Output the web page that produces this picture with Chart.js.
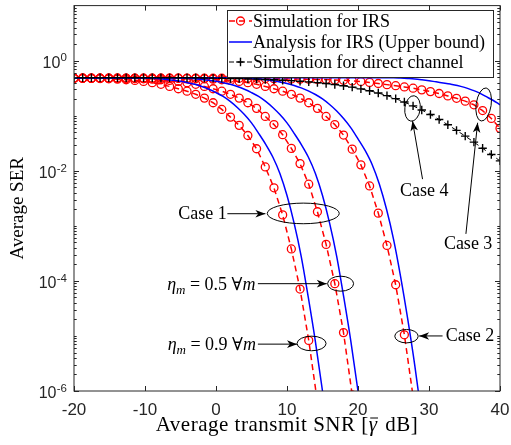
<!DOCTYPE html>
<html><head><meta charset="utf-8">
<script src="https://cdn.jsdelivr.net/npm/chart.js@4.4.0/dist/chart.umd.min.js"></script>
<style>html,body{margin:0;padding:0;background:#fff;}canvas{display:block;}</style>
</head><body>
<canvas id="c" width="511" height="445"></canvas>
<script>
// ---------- DATA ----------
const snrSim = [-20,-18.776,-17.551,-16.327,-15.102,-13.878,-12.653,-11.429,-10.204,-8.980,-7.755,-6.531,-5.306,-4.082,-2.857,-1.633,-0.408,0.816,2.041,3.265,4.490,5.714,6.939,8.163,9.388,10.612,11.837,13.061,14.286,15.510,16.735,17.959,19.184,20.408,21.633,22.857,24.082,25.306,26.531,27.755,28.980,30.204,31.429,32.653,33.878,35.102,36.327,37.551,38.776,40];
const snrAna = [-20,-19,-18,-17,-16,-15,-14,-13,-12,-11,-10,-9,-8,-7,-6,-5,-4,-3,-2,-1,0,1,2,3,4,5,6,7,8,9,10,11,12,13,14,15,16,17,18,19,20,21,22,23,24,25,26,27,28,29,30,31,32,33,34,35,36,37,38,39,40];

// Simulation for IRS (red)
const simCase1Eta09 = [0.479,0.479,0.476,0.473,0.468,0.460,0.450,0.437,0.420,0.398,0.372,0.340,0.309,0.279,0.245,0.209,0.172,0.130,0.0944,0.0668,0.0437,0.0251,0.01175,0.0049,0.00158,3.8e-4,7.1e-5,8.3e-6,6.3e-7];
const simCase1Eta05 = [0.479,0.479,0.479,0.479,0.479,0.479,0.476,0.473,0.468,0.460,0.450,0.437,0.420,0.398,0.372,0.340,0.309,0.279,0.245,0.209,0.172,0.136,0.097,0.069,0.0452,0.0255,0.0135,0.0057,0.0018,4.6e-4,8.9e-5,1.15e-5,8.5e-7];
const simCase2 = [0.479,0.479,0.479,0.479,0.479,0.479,0.479,0.479,0.479,0.479,0.479,0.479,0.479,0.476,0.473,0.468,0.460,0.450,0.437,0.420,0.398,0.372,0.340,0.309,0.279,0.245,0.209,0.172,0.136,0.097,0.069,0.0445,0.0247,0.0128,0.0053,0.0017,4.4e-4,8.5e-5,1.05e-5,8e-7];
const simCase3 = [0.479,0.479,0.479,0.479,0.479,0.479,0.479,0.479,0.479,0.479,0.479,0.479,0.479,0.479,0.479,0.479,0.479,0.479,0.479,0.479,0.479,0.479,0.473,0.471,0.468,0.466,0.462,0.460,0.457,0.453,0.447,0.440,0.429,0.417,0.403,0.385,0.367,0.351,0.333,0.316,0.295,0.274,0.253,0.229,0.207,0.184,0.158,0.124,0.0891,0.0589];
// Analysis for IRS, upper bound (blue)
const anaCase1Eta09 = [0.49,0.49,0.49,0.49,0.49,0.49,0.49,0.49,0.49,0.488,0.484,0.479,0.468,0.457,0.442,0.422,0.398,0.372,0.339,0.302,0.263,0.224,0.182,0.141,0.105,0.0741,0.0479,0.0302,0.0178,0.0089,0.00355,0.00112,2.8e-4,5.0e-5,7.9e-6,1.0e-6,1e-7];
const anaCase1Eta05 = [0.49,0.49,0.49,0.49,0.49,0.49,0.49,0.49,0.49,0.49,0.49,0.49,0.49,0.49,0.488,0.484,0.479,0.468,0.457,0.442,0.422,0.398,0.372,0.339,0.302,0.263,0.224,0.182,0.141,0.105,0.0741,0.0479,0.0302,0.0178,0.0089,0.00355,0.00112,2.8e-4,5.0e-5,7.9e-6,1.0e-6,1e-7];
const anaCase2 = [0.49,0.49,0.49,0.49,0.49,0.49,0.49,0.49,0.49,0.49,0.49,0.49,0.49,0.49,0.49,0.49,0.49,0.49,0.49,0.49,0.49,0.49,0.49,0.486,0.482,0.473,0.462,0.450,0.432,0.410,0.385,0.355,0.320,0.282,0.243,0.202,0.160,0.122,0.0881,0.0603,0.0380,0.0234,0.0129,0.00575,0.00204,5.75e-4,1.2e-4,2.04e-5,2.9e-6,3.2e-7];
const anaCase3 = [0.49,0.49,0.49,0.49,0.49,0.49,0.49,0.49,0.49,0.49,0.49,0.49,0.49,0.49,0.49,0.49,0.49,0.49,0.49,0.49,0.49,0.49,0.49,0.49,0.49,0.49,0.49,0.49,0.49,0.49,0.49,0.49,0.49,0.49,0.49,0.49,0.49,0.49,0.49,0.49,0.49,0.49,0.49,0.49,0.49,0.49,0.484,0.476,0.466,0.450,0.432,0.412,0.394,0.376,0.355,0.327,0.295,0.263,0.224,0.191,0.158];
// Simulation for direct channel (black)
const simDirect = [0.49,0.49,0.49,0.49,0.49,0.49,0.49,0.49,0.49,0.49,0.49,0.49,0.49,0.49,0.49,0.4835,0.481,0.478,0.475,0.471,0.467,0.462,0.456,0.449,0.442,0.433,0.423,0.412,0.399,0.385,0.368,0.350,0.330,0.307,0.284,0.258,0.232,0.204,0.177,0.151,0.127,0.105,0.0853,0.0685,0.0542,0.0426,0.0331,0.0256,0.0197,0.0151];

const xTicks = [-20,-10,0,10,20,30,40];
const yTickExps = [-6,-4,-2,0];
const legendLabels = ['Simulation for IRS','Analysis for IRS (Upper bound)','Simulation for direct channel'];
const xTitle = ['Average transmit SNR [', 'γ', ' dB]'];
const yTitle = 'Average SER';

// annotations: anchor positions in data units (SNR dB, SER)
const notes = {
  case1: {text:'Case 1', tx:-1.9, ty:1.66e-3, ax0:1.6, ay0:1.66e-3, ax1:6.96, ay1:1.66e-3, ex:12.29, ey:1.68e-3, rx:36, ry:10.3, rot:0},
  eta05: {tx:-0.66, ty:8.9e-5, ax0:5.9, ay0:8.9e-5, ax1:15.6, ay1:8.9e-5, ex:17.55, ey:8.9e-5, rx:13, ry:7.5, rot:0, val:'0.5'},
  eta09: {tx:-0.59, ty:7.1e-6, ax0:5.9, ay0:7.1e-6, ax1:11.41, ay1:7.1e-6, ex:13.46, ey:7.3e-6, rx:14.5, ry:7.3, rot:0, val:'0.9'},
  case2: {text:'Case 2', tx:35.77, ty:1.03e-5, ax0:31.91, ay0:1.0e-5, ax1:28.61, ay1:1.0e-5, ex:26.83, ey:9.9e-6, rx:11.7, ry:6.7, rot:0},
  case4: {text:'Case 4', tx:29.32, ty:4.46e-3, ax0:29.09, ay0:7.05e-3, ax1:27.68, ay1:0.0798, ex:27.68, ey:0.1355, rx:7.7, ry:12.8, rot:0.13},
  case3: {text:'Case 3', tx:35.51, ty:4.83e-4, ax0:35.2, ay0:7.14e-4, ax1:36.85, ay1:0.0745, ex:37.7, ey:0.16, rx:7.5, ry:16.7, rot:0.15}
};

// ---------- STYLES ----------
const SERIF = "'Liberation Serif','DejaVu Serif',serif";
const SANS = "'Liberation Sans',Arial,sans-serif";
const AX = '#262626';
const RED = '#ff0000', BLUE = '#0000ff', BLACK = '#000000';
const redStyle = {borderColor:RED, borderWidth:1.5, borderDash:[6,4], pointRadius:4, pointHoverRadius:4,
  pointBorderColor:RED, pointBackgroundColor:'rgba(0,0,0,0)', pointBorderWidth:1.3, tension:0, order:3};
const blueStyle = {borderColor:BLUE, borderWidth:1.5, pointRadius:0, pointHoverRadius:0, cubicInterpolationMode:'monotone', order:2};
const blackStyle = {borderColor:BLACK, borderWidth:1, borderDash:[5,4], pointStyle:'cross', pointRadius:4.2, pointHoverRadius:4.2,
  pointBorderColor:BLACK, pointBorderWidth:1.4, tension:0, order:1};

function pts(xs, ys){ return ys.map((v,i)=>({x:xs[i], y:v})); }

function arrowHead(c, x0, y0, x1, y1, L, W){
  const a = Math.atan2(y1-y0, x1-x0);
  const cos = Math.cos(a), sin = Math.sin(a);
  const bx = x1 - L*cos, by = y1 - L*sin;
  const nx = x1 - 0.72*L*cos, ny = y1 - 0.72*L*sin;
  c.beginPath();
  c.moveTo(x1, y1);
  c.lineTo(bx - W*sin, by + W*cos);
  c.lineTo(nx, ny);
  c.lineTo(bx + W*sin, by - W*cos);
  c.closePath();
  c.fill();
}

const decor = {
  id:'decor',
  afterDraw(chart){
    const c = chart.ctx, a = chart.chartArea, xs = chart.scales.x, ys = chart.scales.y;
    const px = v => xs.getPixelForValue(v), py = v => ys.getPixelForValue(v);
    c.save();
    // box
    c.strokeStyle = AX; c.lineWidth = 1;
    c.strokeRect(a.left, a.top, a.right - a.left, a.bottom - a.top);
    // x ticks
    c.beginPath();
    xTicks.forEach(v => { const X = Math.round(px(v)) + 0.5;
      c.moveTo(X, a.bottom); c.lineTo(X, a.bottom - 5);
      c.moveTo(X, a.top); c.lineTo(X, a.top + 5); });
    // y ticks
    for (let k = -6; k <= 0; k++) {
      for (let j = 1; j <= 9; j++) {
        const v = j * Math.pow(10, k);
        const Y = Math.round(py(v)) + 0.5;
        const major = (j === 1 && k % 2 === 0);
        const len = major ? 5 : 2.7;
        c.moveTo(a.left, Y); c.lineTo(a.left + len, Y);
        c.moveTo(a.right, Y); c.lineTo(a.right - len, Y);
      }
    }
    c.stroke();
    // x tick labels
    c.fillStyle = AX; c.font = `17px ${SANS}`; c.textAlign = 'center'; c.textBaseline = 'alphabetic';
    xTicks.forEach(v => c.fillText(String(v), px(v), 415));
    // y tick labels 10^k
    yTickExps.forEach(e => {
      const Y = py(Math.pow(10, e));
      const ex = e < 0 ? '-' + Math.abs(e) : String(e);
      c.textAlign = 'right';
      c.font = `11.5px ${SANS}`;
      const ew = c.measureText(ex).width;
      c.fillText(ex, 67, Y + 0.8);
      c.font = `16px ${SANS}`;
      c.fillText('10', 67 - ew - 0.3, Y + 7);
    });
    // axis titles
    c.fillStyle = '#000';
    c.textAlign = 'left';
    c.letterSpacing = '0.5px';
    c.font = `21px ${SERIF}`;
    const w0 = c.measureText(xTitle[0]).width;
    const w2 = c.measureText(xTitle[2]).width;
    c.font = `italic 21px ${SERIF}`;
    const w1 = c.measureText(xTitle[1]).width;
    const tot = w0 + w1 + w2 + 2;
    let tx = (a.left + a.right) / 2 - tot / 2;
    const tb = 431;
    c.font = `21px ${SERIF}`; c.fillText(xTitle[0], tx, tb); tx += w0;
    c.font = `italic 21px ${SERIF}`; c.fillText(xTitle[1], tx, tb);
    c.beginPath(); c.lineWidth = 1; c.strokeStyle = '#000';
    c.moveTo(tx + 1.5, tb - 13); c.lineTo(tx + w1 + 0.5, tb - 13); c.stroke();
    tx += w1 + 2;
    c.font = `21px ${SERIF}`; c.fillText(xTitle[2], tx, tb);
    c.letterSpacing = '0px';
    c.save();
    c.translate(23, (a.top + a.bottom) / 2 + 10);
    c.rotate(-Math.PI / 2);
    c.textAlign = 'center'; c.font = `19px ${SERIF}`;
    c.fillText(yTitle, 0, 0);
    c.restore();

    // legend
    const L = {x:227, y:10, w:266, h:67};
    c.fillStyle = '#fff'; c.fillRect(L.x, L.y, L.w, L.h);
    c.strokeStyle = AX; c.lineWidth = 1; c.strokeRect(L.x + 0.5, L.y + 0.5, L.w, L.h);
    const rows = [21, 42, 62];
    // row 1 red
    c.lineWidth = 1.5; c.strokeStyle = RED; c.setLineDash([6,4]);
    c.beginPath(); c.moveTo(229, rows[0]); c.lineTo(252, rows[0]); c.stroke();
    c.setLineDash([]); c.lineWidth = 1.3;
    c.beginPath(); c.arc(240.5, rows[0], 4, 0, Math.PI * 2); c.stroke();
    // row 2 blue
    c.lineWidth = 1.5; c.strokeStyle = BLUE;
    c.beginPath(); c.moveTo(229, rows[1]); c.lineTo(252, rows[1]); c.stroke();
    // row 3 black
    c.lineWidth = 1; c.strokeStyle = BLACK; c.setLineDash([5,4]);
    c.beginPath(); c.moveTo(229, rows[2]); c.lineTo(252, rows[2]); c.stroke();
    c.setLineDash([]); c.lineWidth = 1.4;
    c.beginPath(); c.moveTo(236.3, rows[2]); c.lineTo(244.7, rows[2]); c.moveTo(240.5, rows[2] - 4.2); c.lineTo(240.5, rows[2] + 4.2); c.stroke();
    c.fillStyle = '#000'; c.font = `18px ${SERIF}`; c.textAlign = 'left';
    legendLabels.forEach((t, i) => c.fillText(t, 253, rows[i] + 6));

    // annotations
    c.strokeStyle = '#000'; c.fillStyle = '#000'; c.lineWidth = 1;
    Object.values(notes).forEach(n => {
      c.beginPath();
      c.ellipse(px(n.ex), py(n.ey), n.rx, n.ry, n.rot, 0, Math.PI * 2);
      c.stroke();
      const x0 = px(n.ax0), y0 = py(n.ay0), x1 = px(n.ax1), y1 = py(n.ay1);
      c.beginPath(); c.moveTo(x0, y0); c.lineTo(x1, y1); c.stroke();
      arrowHead(c, x0, y0, x1, y1, 10, 3.8);
      const cx = px(n.tx), cy = py(n.ty);
      if (n.text) {
        c.font = `18px ${SERIF}`; c.textAlign = 'center'; c.textBaseline = 'middle';
        c.fillText(n.text, cx, cy + 1);
      } else {
        // eta_m = val ∀m
        const parts = [
          {t:'η', f:`italic 18px ${SERIF}`, dy:0},
          {t:'m', f:`italic 13px ${SERIF}`, dy:4},
          {t:' = ' + n.val + ' ', f:`18px ${SERIF}`, dy:0},
          {t:'∀', f:`18px ${SERIF}`, dy:0},
          {t:'m', f:`italic 18px ${SERIF}`, dy:0}
        ];
        c.textAlign = 'left'; c.textBaseline = 'alphabetic';
        let tw = 0;
        parts.forEach(p => { c.font = p.f; p.w = c.measureText(p.t).width; tw += p.w; });
        let xx = cx - tw / 2;
        parts.forEach(p => { c.font = p.f; c.fillText(p.t, xx, cy + 6 + p.dy); xx += p.w; });
      }
    });
    c.restore();
  }
};

new Chart(document.getElementById('c').getContext('2d'), {
  type:'line',
  data:{ datasets:[
    Object.assign({label:'Simulation for IRS', data:pts(snrSim, simCase1Eta09)}, redStyle),
    Object.assign({label:'sim eta05', data:pts(snrSim, simCase1Eta05)}, redStyle),
    Object.assign({label:'sim case2', data:pts(snrSim, simCase2)}, redStyle),
    Object.assign({label:'sim case3', data:pts(snrSim, simCase3)}, redStyle),
    Object.assign({label:'Analysis for IRS (Upper bound)', data:pts(snrAna, anaCase1Eta09)}, blueStyle),
    Object.assign({label:'ana eta05', data:pts(snrAna, anaCase1Eta05)}, blueStyle),
    Object.assign({label:'ana case2', data:pts(snrAna, anaCase2)}, blueStyle),
    Object.assign({label:'ana case3', data:pts(snrAna, anaCase3)}, blueStyle),
    Object.assign({label:'Simulation for direct channel', data:pts(snrSim, simDirect)}, blackStyle)
  ]},
  options:{
    responsive:false, animation:false, events:[],
    layout:{padding:{top:4, right:11, left:0, bottom:0}},
    plugins:{legend:{display:false}, tooltip:{enabled:false}},
    scales:{
      x:{type:'linear', min:-20, max:40, grid:{display:false}, border:{display:false}, ticks:{display:false},
         afterFit:s => { s.height = 54; }},
      y:{type:'logarithmic', min:1e-6, max:10, grid:{display:false}, border:{display:false}, ticks:{display:false},
         afterFit:s => { s.width = 74; }}
    }
  },
  plugins:[decor]
});
</script>
</body></html>
